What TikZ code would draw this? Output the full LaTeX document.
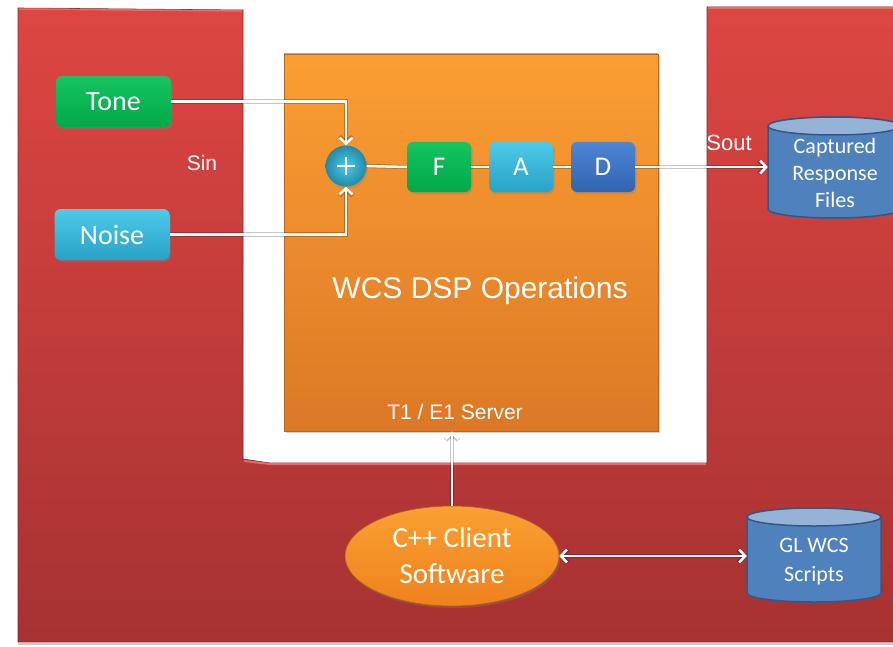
\documentclass[tikz,border=0pt]{standalone}
\usepackage{fontspec}
\setmainfont{Carlito}
\newfontfamily\arialf{Liberation Sans}
\usetikzlibrary{arrows.meta,shadows,shapes.geometric}
\definecolor{redtop}{RGB}{221,70,66}
\definecolor{redbot}{RGB}{166,50,50}
\definecolor{redhi}{RGB}{236,104,100}
\definecolor{ortop}{RGB}{251,158,50}
\definecolor{orbot}{RGB}{220,120,38}
\definecolor{grtop}{RGB}{22,196,96}
\definecolor{grbot}{RGB}{0,168,74}
\definecolor{cytop}{RGB}{78,202,232}
\definecolor{cybot}{RGB}{40,162,198}
\definecolor{bltop}{RGB}{78,134,212}
\definecolor{blbot}{RGB}{48,100,176}
\definecolor{cylbody}{RGB}{79,129,189}
\definecolor{cyltop}{RGB}{149,179,215}
\definecolor{cylline}{RGB}{52,88,134}
\definecolor{elltop}{RGB}{250,160,50}
\definecolor{ellbot}{RGB}{238,130,30}
\begin{document}
\begin{tikzpicture}[x=1pt,y=-1pt,
  shd/.style={drop shadow={shadow xshift=1.5pt,shadow yshift=-2pt,opacity=0.35}},
  srcbox/.style={rounded corners=6pt,minimum width=115pt,minimum height=51pt,inner sep=0pt,
     text=white,font=\fontsize{28}{30}\selectfont,shd},
  opbox/.style={rounded corners=6pt,minimum width=64pt,minimum height=50pt,inner sep=0pt,
     text=white,font=\fontsize{27}{28}\selectfont,shd},
  greenf/.style={top color=grtop,bottom color=grbot},
  cyanf/.style={top color=cytop,bottom color=cybot},
  bluef/.style={top color=bltop,bottom color=blbot},
  wire/.style={white,line width=2.5pt,preaction={draw=black,opacity=0.22,line width=4.2pt}},
  tip/.style={-{Straight Barb[length=6pt,width=13pt]}},
  lbl/.style={text=white,inner sep=0pt,font=\arialf\fontsize{21}{23}\selectfont},
  celltext/.style={text=white,align=center,inner sep=0pt}]
\useasboundingbox (0,0) rectangle (893,647);
\fill[white] (0,0) rectangle (893,647);
\draw[gray!40,line width=1.2pt] (18,644) -- (893,644);
% red U-shaped background
\path[top color=redtop,bottom color=redbot,draw=redbot!80!black,line width=0.6pt]
  (18,8) -- (243,10) -- (243,459) -- (270,463) -- (707,463) -- (707,7) -- (900,7)
  -- (900,642) -- (18,642) -- cycle;
\draw[redhi,line width=1.5pt] (19,9) -- (242,11);
\draw[redhi,line width=1.5pt] (708,8) -- (893,8);
\draw[redhi,line width=2pt] (244,461) -- (270,464) -- (706,464);
% orange DSP box
\node[shd,top color=ortop,bottom color=orbot,draw=orbot!85!black,line width=0.6pt,
  minimum width=374pt,minimum height=377pt,inner sep=0pt] (dsp) at (471,242.5) {};
\node[lbl,font=\arialf\fontsize{30}{32}\selectfont] (wcs) at (480,291) {WCS DSP Operations};
\node[lbl,font=\arialf\fontsize{21}{23}\selectfont] (srv) at (455,412) {T1 / E1 Server};
% sources
\node[srcbox,greenf] (tone) at (113.5,101.5) {Tone};
\node[srcbox,cyanf] (noise) at (112,234.5) {Noise};
\node[lbl] (sin) at (202,163) {Sin};
% summing junction and chain
\node[circle,minimum size=41pt,inner sep=0pt,shd,
  inner color=cytop,outer color=cybot!85!black,text=white,
  font=\fontsize{40}{40}\selectfont] (plus) at (346,166) {};
\draw[white,line width=2.6pt] (plus.center) ++(-9,0) -- ++(18,0)
  (plus.center) ++(0,-9) -- ++(0,18);
\node[opbox,greenf] (f) at (439,167) {F};
\node[opbox,cyanf] (a) at (521,167) {A};
\node[opbox,bluef] (d) at (603,167) {D};
% captured response cylinder
\node[minimum width=132pt,minimum height=101pt,inner sep=0pt] (cap) at (834,167.5) {};
\path[fill=cylbody,draw=cylline,line width=1.5pt]
  (768,126) -- (768,209) arc[start angle=180,end angle=360,x radius=66pt,y radius=9pt]
  -- (900,126) arc[start angle=0,end angle=180,x radius=66pt,y radius=9pt] -- cycle;
\draw[fill=cyltop,draw=cylline,line width=1.5pt] (834,126) ellipse[x radius=66pt,y radius=9pt];
\node[celltext,font=\fontsize{22}{27}\selectfont] (captxt) at (835,173) {Captured\\Response\\Files};
\node[lbl,font=\arialf\fontsize{22}{24}\selectfont] (sout) at (729,143) {Sout};
% GL WCS scripts cylinder
\node[minimum width=134pt,minimum height=94pt,inner sep=0pt] (gl) at (814,555) {};
\path[fill=cylbody,draw=cylline,line width=1.5pt]
  (747,517) -- (747,593) arc[start angle=180,end angle=360,x radius=67pt,y radius=9pt]
  -- (881,517) arc[start angle=0,end angle=180,x radius=67pt,y radius=9pt] -- cycle;
\draw[fill=cyltop,draw=cylline,line width=1.5pt] (814,517) ellipse[x radius=67pt,y radius=9pt];
\node[celltext,font=\fontsize{22}{29}\selectfont] (gltxt) at (814,562) {GL WCS\\Scripts};
% client ellipse
\node[ellipse,minimum width=214pt,minimum height=100pt,inner sep=0pt,shd,
  top color=elltop,bottom color=ellbot,draw=orbot!80!black,line width=0.6pt,
  text=white,align=center,font=\fontsize{29}{36}\selectfont] (cli) at (452,556) {C++ Client\\Software};
% connectors
\draw[wire,tip] (tone.east) -| (plus.north);
\draw[wire,tip] (noise.east) -| (plus.south);
\draw[wire] (plus.east) -- (f.west);
\draw[wire] (f.east) -- (a.west);
\draw[wire] (a.east) -- (d.west);
\draw[wire,tip] (d.east) -- (d.east -| cap.west);
\draw[wire,tip] (cli.north) -- (cli.north |- dsp.south);
\draw[wire,{Straight Barb[length=6pt,width=13pt]}-{Straight Barb[length=6pt,width=13pt]}] (cli.east) -- (gl.west |- cli.east);
\end{tikzpicture}
\end{document}
